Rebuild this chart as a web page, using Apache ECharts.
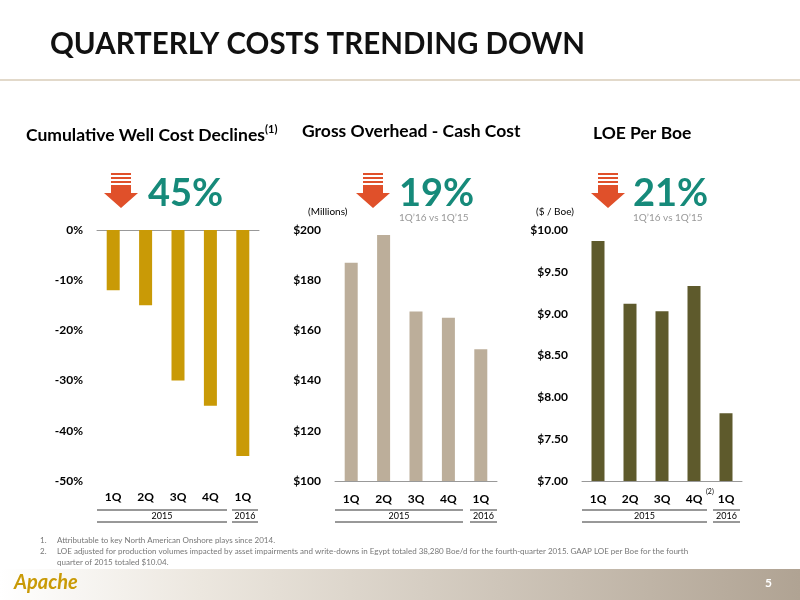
<!DOCTYPE html>
<html><head><meta charset="utf-8">
<script src="https://cdn.jsdelivr.net/npm/echarts@6/dist/echarts.min.js"></script>
<style>html,body{margin:0;padding:0;background:#fff}#c{width:800px;height:600px}</style>
</head><body><div id="c"></div>
<script>
const quarters = ['1Q','2Q','3Q','4Q','1Q'];
const wellCostDecline = [-12, -15, -30, -35, -45];
const overhead = [187, 198, 167.5, 165, 152.5];
const loePerBoe = [9.87, 9.12, 9.03, 9.33, 7.81];
const FF = 'Lato, "Open Sans", sans-serif';
const chart = echarts.init(document.getElementById('c'));

function arrow(x, y) {
  return [
    {type:'rect', shape:{x:x+6,y:y,width:20,height:2}, style:{fill:'#E0502A'}},
    {type:'rect', shape:{x:x+6,y:y+4,width:20,height:2}, style:{fill:'#E0502A'}},
    {type:'rect', shape:{x:x+6,y:y+8,width:20,height:2}, style:{fill:'#E0502A'}},
    {type:'polygon', shape:{points:[[x+6,y+12],[x+26,y+12],[x+26,y+20],[x+33,y+20],[x+16,y+35],[x-1,y+20],[x+6,y+20]]}, style:{fill:'#E0502A'}}
  ];
}
function txt(x,y,t,size,color,weight,align){
  return {type:'text', x:x, y:y, style:{text:t, font:(weight||'normal')+' '+size+'px '+FF, fill:color||'#000', textAlign:align||'left', textVerticalAlign:'middle'}};
}
function years(x1, x2, x3, x4){
  return [
    {type:'line', shape:{x1:x1,y1:510,x2:x2,y2:510}, style:{stroke:'#333',lineWidth:1}},
    {type:'line', shape:{x1:x1,y1:522,x2:x2,y2:522}, style:{stroke:'#333',lineWidth:1}},
    {type:'line', shape:{x1:x3,y1:510,x2:x4,y2:510}, style:{stroke:'#333',lineWidth:1}},
    {type:'line', shape:{x1:x3,y1:522,x2:x4,y2:522}, style:{stroke:'#333',lineWidth:1}},
    txt((x1+x2)/2, 516, '2015', 9, '#000', 'normal', 'center'),
    txt((x3+x4)/2, 516, '2016', 9, '#000', 'normal', 'center')
  ];
}

const axLabel = {fontFamily:FF, fontWeight:'bold', fontSize:12, color:'#000'};
const grids = [
  {left:97, top:230, width:162, height:251},
  {left:335, top:230, width:162, height:251},
  {left:582, top:230, width:160, height:251}
];
const valAxisCommon = {axisLine:{show:false}, axisTick:{show:false}, splitLine:{show:false}};
const option = {
  animation:false,
  grid: grids,
  xAxis: [
    {gridIndex:0, type:'category', data:quarters, position:'top', axisLine:{onZero:false,lineStyle:{color:'#999'}}, axisTick:{inside:true,lineStyle:{color:'#999'}}, axisLabel:{show:false}},
    {gridIndex:0, type:'category', data:quarters, position:'bottom', axisLine:{show:false}, axisTick:{show:false}, axisLabel:Object.assign({margin:10},axLabel)},
    {gridIndex:1, type:'category', data:quarters, axisLine:{lineStyle:{color:'#999'}}, axisTick:{inside:true,lineStyle:{color:'#999'}}, axisLabel:Object.assign({margin:12},axLabel)},
    {gridIndex:2, type:'category', data:quarters, axisLine:{lineStyle:{color:'#999'}}, axisTick:{inside:true,lineStyle:{color:'#999'}}, axisLabel:Object.assign({margin:12},axLabel)}
  ],
  yAxis: [
    Object.assign({gridIndex:0, type:'value', min:-50, max:0, interval:10, axisLabel:Object.assign({formatter:v=>v+'%', margin:14},axLabel)}, valAxisCommon),
    Object.assign({gridIndex:1, type:'value', min:100, max:200, interval:20, axisLabel:Object.assign({formatter:v=>'$'+v, margin:14},axLabel)}, valAxisCommon),
    Object.assign({gridIndex:2, type:'value', min:7, max:10, interval:0.5, axisLabel:Object.assign({formatter:v=>'$'+v.toFixed(2), margin:14},axLabel)}, valAxisCommon)
  ],
  series: [
    {type:'bar', xAxisIndex:0, yAxisIndex:0, data:wellCostDecline, barWidth:13, itemStyle:{color:'#C99A06'}},
    {type:'bar', xAxisIndex:2, yAxisIndex:1, data:overhead, barWidth:13, itemStyle:{color:'#BCAE9A'}},
    {type:'bar', xAxisIndex:3, yAxisIndex:2, data:loePerBoe, barWidth:13, itemStyle:{color:'#5E5A2C'}}
  ],
  graphic: [].concat(
    [
      txt(50, 44, 'QUARTERLY COSTS TRENDING DOWN', 29.5, '#111', 'bold'),
      {type:'line', shape:{x1:0,y1:80,x2:800,y2:80}, style:{stroke:'#D8CCB8',lineWidth:1.5}},
      txt(26, 135, 'Cumulative Well Cost Declines', 17.5, '#000', 'bold'),
      txt(265, 129, '(1)', 11, '#000', 'bold'),
      txt(302, 131, 'Gross Overhead - Cash Cost', 17.5, '#000', 'bold'),
      txt(593, 133, 'LOE Per Boe', 17.5, '#000', 'bold'),
      txt(148, 194, '45%', 38, '#168A7A', 'bold'),
      txt(399, 194, '19%', 38, '#168A7A', 'bold'),
      txt(399, 218, '1Q\u201916 vs 1Q\u201915', 10, '#999'),
      txt(633, 194, '21%', 38, '#168A7A', 'bold'),
      txt(633, 218, '1Q\u201916 vs 1Q\u201915', 10, '#999'),
      txt(308, 212, '(Millions)', 10, '#000'),
      txt(536, 212, '($ / Boe)', 10, '#000'),
      txt(706, 492, '(2)', 7, '#000'),
      txt(40, 540, '1.', 8, '#777'),
      txt(57, 540, 'Attributable to key North American Onshore plays since 2014.', 8, '#777'),
      txt(40, 551, '2.', 8, '#777'),
      txt(57, 551, 'LOE adjusted for production volumes impacted by asset impairments and write-downs in Egypt totaled 38,280 Boe/d for the fourth-quarter 2015. GAAP LOE per Boe for the fourth', 8, '#777'),
      txt(57, 562, 'quarter of 2015 totaled $10.04.', 8, '#777'),
      {type:'rect', shape:{x:0,y:569,width:800,height:31}, style:{fill:new echarts.graphic.LinearGradient(0,0,1,0,[{offset:0,color:'#ffffff'},{offset:0.25,color:'#ECE7DF'},{offset:1,color:'#B0A393'}])}},
      txt(14, 583, 'Apache', 20, '#C99A06', 'bold italic'),
      txt(765, 583, '5', 12, '#fff', 'bold')
    ],
    arrow(105,173), arrow(357,173), arrow(592,173),
    years(97,227,232,258), years(335,463,470,497), years(582,707,713,740)
  )
};
chart.setOption(option);
</script></body></html>
